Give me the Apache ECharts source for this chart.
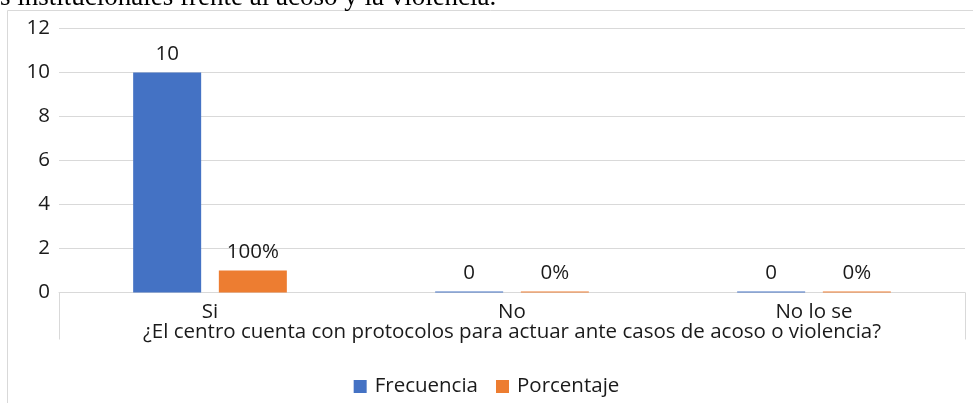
<!DOCTYPE html>
<html>
<head>
<meta charset="utf-8">
<script src="https://cdn.jsdelivr.net/npm/echarts@6/dist/echarts.min.js"></script>
<style>
  html, body { margin: 0; padding: 0; background: #fff; }
  #chart { width: 973px; height: 403px; }
</style>
</head>
<body>
<div id="chart"></div>
<script>
const categories = ["Si", "No", "No lo se"];
const frecuencia = [10, 0, 0];
const porcentaje = [1, 0, 0];
const porcentajeLabels = ["100%", "0%", "0%"];
const groupLabel = ["¿El centro cuenta con protocolos para actuar ante casos de acoso o violencia?"];
const yTicks = { min: 0, max: 12, interval: 2 };

const chart = echarts.init(document.getElementById("chart"));
const font = "Open Sans, Liberation Sans, sans-serif";
const fs = 20.5;
const textColor = "#1a1a1a";

const options = {
  animation: false,
  graphic: [
    {
      type: "rect",
      shape: { x: 7.5, y: 10.5, width: 1000, height: 500 },
      style: { fill: "none", stroke: "#d9d9d9", lineWidth: 1 },
    },
    {
      type: "text",
      left: 0,
      top: -16,
      style: {
        text: "s institucionales frente al acoso y la violencia.",
        font: "27px 'Liberation Serif', serif",
        fill: "#000",
      },
    },
  ],
  legend: {
    data: ["Frecuencia", "Porcentaje"],
    bottom: 1,
    left: "center",
    itemWidth: 13,
    itemHeight: 13,
    itemGap: 18,
    icon: "rect",
    textStyle: { fontSize: fs, color: textColor, fontFamily: font, padding: [0, 0, 0, 3] },
  },
  grid: { left: 59, right: 8, top: 28.5, bottom: 110.5 },
  xAxis: [
    {
      type: "category",
      data: categories,
      axisLine: { lineStyle: { color: "#d9d9d9", width: 1 } },
      axisTick: { show: false },
      axisLabel: { fontSize: fs, color: textColor, fontFamily: font, margin: 9 },
    },
    {
      type: "category",
      data: groupLabel,
      position: "bottom",
      axisLine: { show: false },
      axisTick: { show: true, length: 47, lineStyle: { color: "#d9d9d9" } },
      axisLabel: { fontSize: fs, color: textColor, fontFamily: font, margin: 29 },
    },
  ],
  yAxis: {
    type: "value",
    min: yTicks.min,
    max: yTicks.max,
    interval: yTicks.interval,
    axisLine: { show: false },
    axisTick: { show: false },
    splitLine: { lineStyle: { color: "#d9d9d9", width: 1 } },
    axisLabel: { fontSize: fs, color: textColor, fontFamily: font, margin: 9 },
  },
  series: [
    {
      name: "Frecuencia",
      type: "bar",
      data: frecuencia,
      barWidth: 68,
      barGap: "26%",
      barMinHeight: 1,
      itemStyle: { color: "#4472C4" },
      label: {
        show: true,
        position: "top",
        distance: 8,
        fontSize: fs,
        color: textColor,
        fontFamily: font,
      },
    },
    {
      name: "Porcentaje",
      type: "bar",
      data: porcentaje,
      barWidth: 68,
      barMinHeight: 1,
      itemStyle: { color: "#ED7D31" },
      label: {
        show: true,
        position: "top",
        distance: 8,
        fontSize: fs,
        color: textColor,
        fontFamily: font,
        formatter: (p) => porcentajeLabels[p.dataIndex],
      },
    },
  ],
};

chart.setOption(options);
</script>
</body>
</html>
